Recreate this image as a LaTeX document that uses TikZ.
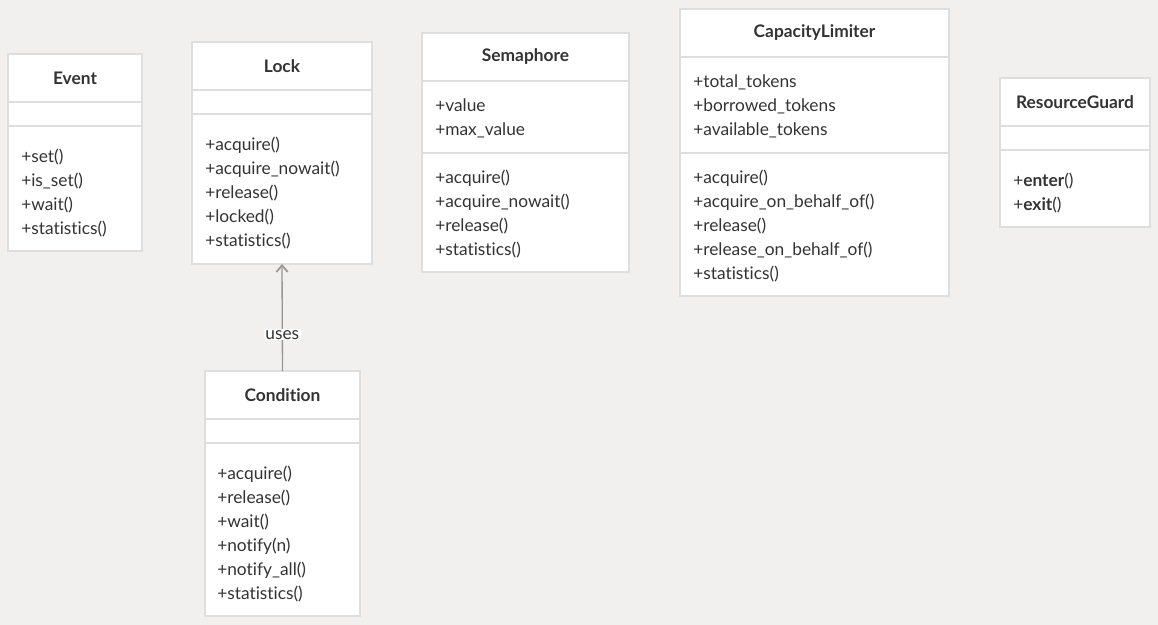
\documentclass[tikz,border=0pt]{standalone}
\usepackage{fontspec}
\setmainfont{Lato}[Ligatures={NoCommon,NoRare}]
\usetikzlibrary{arrows.meta}
\definecolor{bg}{RGB}{241,240,238}
\definecolor{edge}{RGB}{222,222,222}
\definecolor{ink}{RGB}{51,51,51}
\definecolor{link}{RGB}{150,150,150}
\begin{document}
\begin{tikzpicture}[x=0.75pt,y=-0.75pt,
  comp/.style 2 args={draw=edge, line width=1.5pt, fill=white, anchor=north west,
    inner sep=0pt, outer sep=0pt, minimum width=#1*0.75pt, minimum height=#2*0.75pt},
  title/.style={font=\bfseries\fontsize{13}{15}\selectfont, text=ink},
  member/.style={anchor=base west, inner sep=0pt, font=\fontsize{13}{15}\selectfont, text=ink},
  usage/.style={fill=white, inner sep=1pt, font=\fontsize{13}{15}\selectfont, text=ink}]
\fill[bg] (0,0) rectangle (1158,625);
\useasboundingbox (0,0) rectangle (1158,625);

% Event
\node[comp={134}{48}, title] (event-t) at (8,54) {Event};
\node[comp={134}{24}] (event-a) at (8,102) {};
\node[comp={134}{125}] (event-m) at (8,126) {};
\foreach \t [count=\i] in {+set(), +is\_set(), +wait(), +statistics()}
  \node[member] (event-m\i) at (21,{162+24*(\i-1)}) {\t};

% Lock
\node[comp={180}{48}, title] (lock-t) at (192,42) {Lock};
\node[comp={180}{24}] (lock-a) at (192,90) {};
\node[comp={180}{150}] (lock-m) at (192,114) {};
\foreach \t [count=\i] in {+acquire(), +acquire\_nowait(), +release(), +locked(), +statistics()}
  \node[member] (lock-m\i) at (205,{150+24*(\i-1)}) {\t};

% Semaphore
\node[comp={207}{48}, title] (sem-t) at (422,33) {Semaphore};
\node[comp={207}{72}] (sem-a) at (422,81) {};
\node[comp={207}{119}] (sem-m) at (422,153) {};
\foreach \t [count=\i] in {+value, +max\_value}
  \node[member] (sem-a\i) at (435,{111+24*(\i-1)}) {\t};
\foreach \t [count=\i] in {+acquire(), +acquire\_nowait(), +release(), +statistics()}
  \node[member] (sem-m\i) at (435,{183+24*(\i-1)}) {\t};

% CapacityLimiter
\node[comp={269}{48}, title] (cap-t) at (680,9) {CapacityLimiter};
\node[comp={269}{96}] (cap-a) at (680,57) {};
\node[comp={269}{143}] (cap-m) at (680,153) {};
\foreach \t [count=\i] in {+total\_tokens, +borrowed\_tokens, +available\_tokens}
  \node[member] (cap-a\i) at (693,{87+24*(\i-1)}) {\t};
\foreach \t [count=\i] in {+acquire(), +acquire\_on\_behalf\_of(), +release(), +release\_on\_behalf\_of(), +statistics()}
  \node[member] (cap-m\i) at (693,{183+24*(\i-1)}) {\t};

% ResourceGuard
\node[comp={150}{48}, title] (guard-t) at (1000,78) {ResourceGuard};
\node[comp={150}{24}] (guard-a) at (1000,126) {};
\node[comp={150}{77}] (guard-m) at (1000,150) {};
\foreach \t [count=\i] in {{+\textbf{enter}()}, {+\textbf{exit}()}}
  \node[member] (guard-m\i) at (1013,{186+24*(\i-1)}) {\t};

% Condition
\node[comp={155}{48}, title] (cond-t) at (205,371) {Condition};
\node[comp={155}{24}] (cond-a) at (205,419) {};
\node[comp={155}{173}] (cond-m) at (205,443) {};
\foreach \t [count=\i] in {+acquire(), +release(), +wait(), +notify(n), +notify\_all(), +statistics()}
  \node[member] (cond-m\i) at (217,{479+24*(\i-1)}) {\t};

% Condition uses Lock
\draw[link, line width=1pt, -{Straight Barb[length=5pt, width=8.5pt, line width=1.3pt]}]
  (cond-t.north) -- (lock-m.south) node[usage, pos=0.34] (uses) {uses};
\end{tikzpicture}
\end{document}
